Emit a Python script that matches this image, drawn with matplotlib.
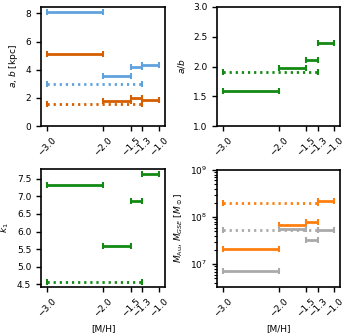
import matplotlib
matplotlib.use("Agg")
import matplotlib.pyplot as plt
from matplotlib.ticker import MultipleLocator

# bins in [M/H]
bin_lo = [-3.0, -2.0, -1.5, -1.3]
bin_hi = [-2.0, -1.5, -1.3, -1.0]
all_lo, all_hi = -3.0, -1.3

a_bins = [8.1, 3.52, 4.22, 4.35]
a_all = 2.95
b_bins = [5.12, 1.75, 2.0, 1.82]
b_all = 1.55

ab_bins = [1.58, 1.98, 2.11, 2.40]
ab_all = 1.91

k1_bins = [7.33, 5.58, 6.88, 7.63]
k1_all = 4.55

mau_bins = [2.15e7, 6.7e7, 8.0e7, 2.2e8]
mau_all = 2.0e8
mgse_bins = [7.3e6, 5.7e7, 3.3e7, 5.4e7]
mgse_all = 5.3e7

xticks = [-3.0, -2.0, -1.5, -1.3, -1.0]
xticklabels = ["\u22123.0", "\u22122.0", "\u22121.5", "\u22121.3", "\u22121.0"]

c_blue = "#5fa2dd"
c_dorange = "#d55e00"
c_green = "#138a13"
c_orange = "#ff7f0e"
c_grey = "#aaaaaa"

plt.rcParams['font.size'] = 6.5
fig = plt.figure(figsize=(3.49, 3.36), dpi=100)

def seg(ax, lo, hi, y, color, dotted=False):
    xc = (lo + hi) / 2
    xe = (hi - lo) / 2
    eb = ax.errorbar([xc], [y], xerr=[xe], fmt='none', ecolor=color,
                     elinewidth=2, capsize=2.5, capthick=1.5)
    if dotted:
        eb[2][0].set_linestyle((0, (0.8, 1.4)))

def draw(ax, bins, allv, color):
    for lo, hi, v in zip(bin_lo, bin_hi, bins):
        seg(ax, lo, hi, v, color)
    seg(ax, all_lo, all_hi, allv, color, dotted=True)

axes = []
pos = [(41, 165, 7, 126), (217, 340, 7, 126), (41, 165, 169, 287), (217, 340, 170, 287)]
for (x0, x1, yt, yb) in pos:
    ax = fig.add_axes([x0 / 349, 1 - yb / 336, (x1 - x0) / 349, (yb - yt) / 336])
    axes.append(ax)

ax1, ax2, ax3, ax4 = axes
draw(ax1, a_bins, a_all, c_blue)
draw(ax1, b_bins, b_all, c_dorange)
ax1.set_ylim(0, 8.45)
ax1.set_ylabel("$a$, $b$ [kpc]")

draw(ax2, ab_bins, ab_all, c_green)
ax2.set_ylim(1.0, 3.0)
ax2.yaxis.set_major_locator(MultipleLocator(0.5))
ax2.set_ylabel("$a/b$")

draw(ax3, k1_bins, k1_all, c_green)
ax3.set_ylim(4.42, 7.78)
ax3.yaxis.set_major_locator(MultipleLocator(0.5))
ax3.set_ylabel("$k_1$")
ax3.set_xlabel("[M/H]")

ax4.set_yscale('log')
draw(ax4, mau_bins, mau_all, c_orange)
draw(ax4, mgse_bins, mgse_all, c_grey)
ax4.set_ylim(3.3e6, 1e9)
ax4.set_ylabel("$M_{\\rm Au}$, $M_{GSE}$ [$M_\\odot$]")
ax4.set_xlabel("[M/H]")

for ax in axes:
    ax.set_xlim(-3.1, -0.9)
    ax.set_xticks(xticks)
    ax.set_xticklabels(xticklabels, rotation=45)
    ax.tick_params(direction='out', length=3.5, width=1, labelsize=6.5)
    ax.tick_params(which='minor', length=2, width=0.8)
    for s in ax.spines.values():
        s.set_linewidth(1.2)

fig.savefig("out.png", dpi=100)
